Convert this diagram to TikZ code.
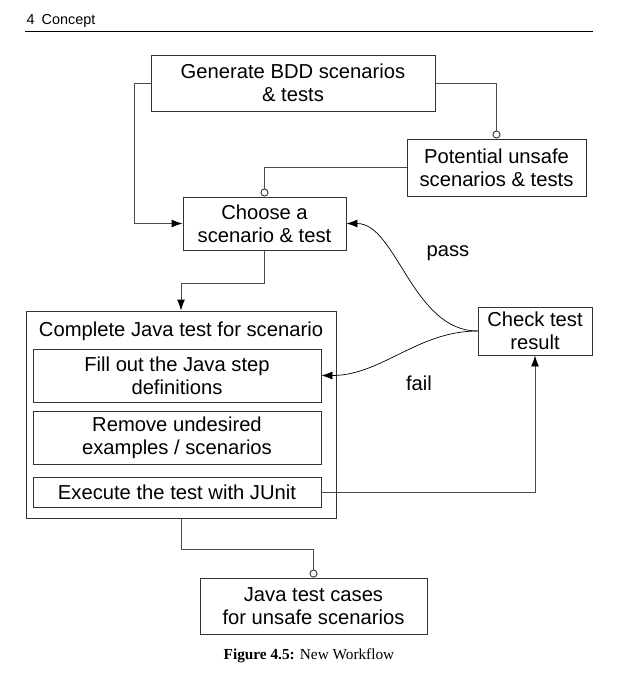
\documentclass[tikz,border=0pt]{standalone}
\usepackage{fontspec}
\setmainfont{Liberation Serif}
\setsansfont{Liberation Sans}
\usetikzlibrary{arrows.meta,positioning}

\begin{document}
\begin{tikzpicture}[x=1pt, y=-1pt,
    box/.style={draw=black!80, line width=0.9pt, inner sep=0pt, align=center,
      font=\sffamily\fontsize{20.2}{23}\selectfont},
    step_box/.style={box, minimum width=288pt, minimum height=53pt},
    flow/.style={draw=black!70, line width=0.9pt},
    lollipop/.style={-{Circle[open, length=8pt, width=8pt, color=black!80]}},
    edge_label/.style={font=\sffamily\fontsize{20.2}{23}\selectfont},
    >={Latex[length=11pt, width=8pt, color=black]}
  ]
  \useasboundingbox (0,0) rectangle (622,691);

  % --- Page header ---
  \node[anchor=west, font=\sffamily\fontsize{14.4}{17}\selectfont] (chapter) at (23,21) {4\enspace Concept};
  \draw[line width=0.8pt] (25,31) -- (593,31);

  % --- Boxes ---
  \node[box, minimum width=284pt, minimum height=56pt] (gen) at (293,83) {Generate BDD scenarios\\ \& tests};
  \node[box, minimum width=179pt, minimum height=57pt] (pot) at (496.5,167.5) {Potential unsafe\\ scenarios \& tests};
  \node[box, minimum width=163pt, minimum height=53pt] (choose) at (264.5,223.5) {Choose a\\ scenario \& test};
  \node[box, minimum width=114pt, minimum height=48pt] (check) at (535,331) {Check test\\ result};

  % --- Complete Java test (container) ---
  \node[box, minimum width=310pt, minimum height=207pt] (complete) at (181,414.5) {};
  \node[edge_label] (completetitle) at (181,331) {Complete Java test for scenario};
  \node[step_box] (fill) at (177,375.5) {Fill out the Java step\\ definitions};
  \node[step_box] (remove) at (177,437.5) {Remove undesired\\ examples / scenarios};
  \node[step_box, minimum height=30pt] (exec) at (177,492) {Execute the test with JUnit};

  \node[box, minimum width=227pt, minimum height=56pt] (java) at (313.5,606) {Java test cases\\ for unsafe scenarios};

  % --- Connectors ---
  \draw[flow, ->] (gen.west) -- ++(-16,0) |- (choose.west);
  \draw[flow, lollipop] (gen.east) -| (pot.north);
  \draw[flow, lollipop] (pot.west) -| (choose.north);
  \draw[flow, ->] (choose.south) -- ++(0,33) -| (complete.north);
  \draw[flow, ->] (exec.east) -| (check.south);
  \draw[flow, lollipop] (complete.south) -- ++(0,31) -| (java.north);

  % --- Feedback curves ---
  \draw[->, line width=0.7pt] (check.west) .. controls +(-65,0) and +(50,0) .. (choose.east);
  \draw[->, line width=0.7pt] (check.west) .. controls +(-60,0) and +(60,0) .. (fill.east);
  \node[edge_label] (passlabel) at (448,253) {pass};
  \node[edge_label] (faillabel) at (419,383) {fail};

  % --- Caption ---
  \node[font=\fontsize{15.3}{18}\selectfont] (caption) at (309,656) {\textbf{Figure 4.5:} New Workflow};
\end{tikzpicture}
\end{document}
